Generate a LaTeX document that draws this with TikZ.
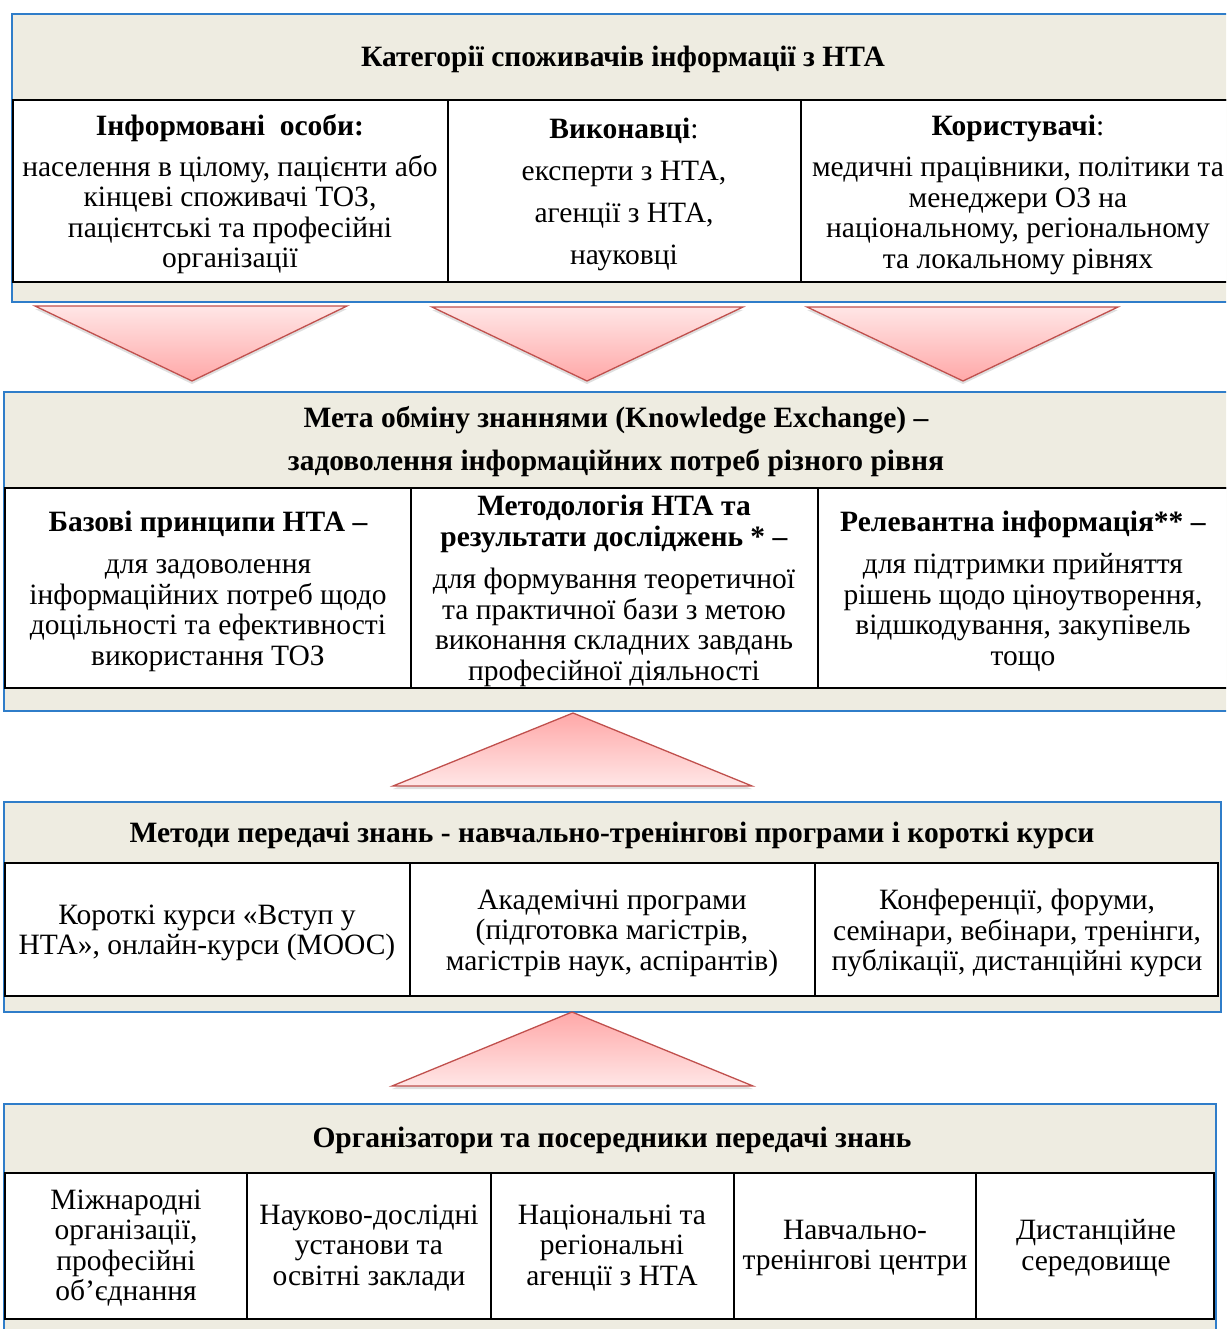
\documentclass[tikz,border=0pt]{standalone}
\usepackage{fontspec}
\setmainfont{Liberation Serif}
\usetikzlibrary{shadows}
\definecolor{bandtan}{HTML}{EEECE1}
\definecolor{frameblue}{HTML}{2F7DC9}
\definecolor{arrred}{HTML}{C0504D}
\definecolor{arrlight}{HTML}{FFE6E6}
\definecolor{arrdark}{HTML}{FFA8A8}
\begin{document}
\begin{tikzpicture}[x=1pt,y=-1pt,
	band/.style={draw=frameblue,line width=1.8pt,fill=bandtan},
	cellbox/.style={draw=black,line width=1.2pt,fill=white},
	sep/.style={line width=2.6pt},
	txt/.style={align=center,inner sep=0pt,yshift=-2pt,font=\fontsize{29.5}{30.5}\selectfont},
	hdr/.style={align=center,inner sep=0pt,yshift=-2pt,font=\fontsize{29.5}{43}\selectfont\bfseries},
	tridown/.style={draw=arrred,line width=1.3pt,top color=arrlight,bottom color=arrdark,
		drop shadow={opacity=0.25,shadow xshift=0pt,shadow yshift=-3pt}},
	triup/.style={draw=arrred,line width=1.3pt,top color=arrdark,bottom color=arrlight,
		drop shadow={opacity=0.25,shadow xshift=0pt,shadow yshift=-3pt}}]
	\clip (0,0) rectangle (1226,1329);
	\fill[white] (0,0) rectangle (1226,1329);

	\draw[band] (12,14) rectangle (1240,302);
	\draw[cellbox] (13,100) rectangle (1240,282);
	\draw[sep] (13,100) -- (1240,100);
	\draw[sep] (448,100) -- (448,282);
	\draw[sep] (801,100) -- (801,282);
	\node[hdr] (cat) at (623,57) {Категорії споживачів інформації з НТА};
	\node[txt] (inform) at (230,192) {\textbf{Інформовані~\ особи:}\\[10.5pt]
		населення в цілому, пацієнти або\\кінцеві споживачі ТОЗ,\\
		пацієнтські та професійні\\організації};
	\node[txt] (vykon) at (624,192) {\textbf{Виконавці}:\\[11.5pt]експерти з НТА,\\[11.5pt]
		агенції з НТА,\\[11.5pt]науковці};
	\node[txt] (korys) at (1018,193) {\textbf{Користувачі}:\\[10.5pt]
		медичні працівники, політики та\\менеджери ОЗ на\\
		національному, регіональному\\та локальному рівнях};

	\draw[band] (4,392) rectangle (1240,711);
	\draw[cellbox] (5,488) rectangle (1240,688);
	\draw[sep] (5,488) -- (1240,488);
	\draw[sep] (411,488) -- (411,688);
	\draw[sep] (818,488) -- (818,688);
	\node[hdr] (meta) at (616,440) {Мета обміну знаннями (Knowledge Exchange) –\\
		задоволення інформаційних потреб різного рівня};
	\node[txt] (bazovi) at (208,589) {\textbf{Базові принципи НТА –}\\[12pt]
		для задоволення\\інформаційних потреб щодо\\
		доцільності та ефективності\\використання ТОЗ};
	\node[txt] (metod) at (614,589) {\textbf{Методологія НТА та}\\\textbf{результати досліджень * –}\\[12pt]
		для формування теоретичної\\та практичної бази з метою\\
		виконання складних завдань\\професійної діяльності};
	\node[txt] (relev) at (1023,589) {\textbf{Релевантна інформація** –}\\[12pt]
		для підтримки прийняття\\рішень щодо ціноутворення,\\
		відшкодування, закупівель\\тощо};

	\draw[band] (4,802) rectangle (1221,1012);
	\draw[cellbox] (5,863) rectangle (1218,996);
	\draw[sep] (5,863) -- (1218,863);
	\draw[sep] (410,863) -- (410,996);
	\draw[sep] (815,863) -- (815,996);
	\node[hdr] (metody) at (612,833) {Методи передачі знань - навчально-тренінгові програми і короткі курси};
	\node[txt] (kursy) at (207,931) {Короткі курси «Вступ у\\НТА», онлайн-курси (МООС)};
	\node[txt] (akadem) at (612,931) {Академічні програми\\(підготовка магістрів,\\магістрів наук, аспірантів)};
	\node[txt] (konfer) at (1017,931) {Конференції, форуми,\\семінари, вебінари, тренінги,\\публікації, дистанційні курси};

	\draw[band] (4,1104) rectangle (1216,1345);
	\draw[cellbox] (5,1173) rectangle (1214,1319);
	\draw[sep] (5,1173) -- (1214,1173);
	\draw[sep] (247,1173) -- (247,1319);
	\draw[sep] (491,1173) -- (491,1319);
	\draw[sep] (734,1173) -- (734,1319);
	\draw[sep] (976,1173) -- (976,1319);
	\node[hdr] (orgs) at (612,1138) {Організатори та посередники передачі знань};
	\node[txt] (mizhn) at (126,1246) {Міжнародні\\організації,\\професійні\\об’єднання};
	\node[txt] (nauk) at (369,1246) {Науково-дослідні\\установи та\\освітні заклади};
	\node[txt] (nats) at (612,1246) {Національні та\\регіональні\\агенції з НТА};
	\node[txt] (navch) at (855,1246) {Навчально-\\тренінгові центри};
	\node[txt] (dyst) at (1096,1246) {Дистанційне\\середовище};

	\draw[tridown] (35,306) -- (347,306) -- (192,381) -- cycle;
	\draw[tridown] (432,307) -- (743,307) -- (587,381) -- cycle;
	\draw[tridown] (807,307) -- (1118,307) -- (963,381) -- cycle;
	\draw[triup] (393,786) -- (752,786) -- (573,713) -- cycle;
	\draw[triup] (392,1086) -- (753,1086) -- (572,1012) -- cycle;
\end{tikzpicture}
\end{document}
